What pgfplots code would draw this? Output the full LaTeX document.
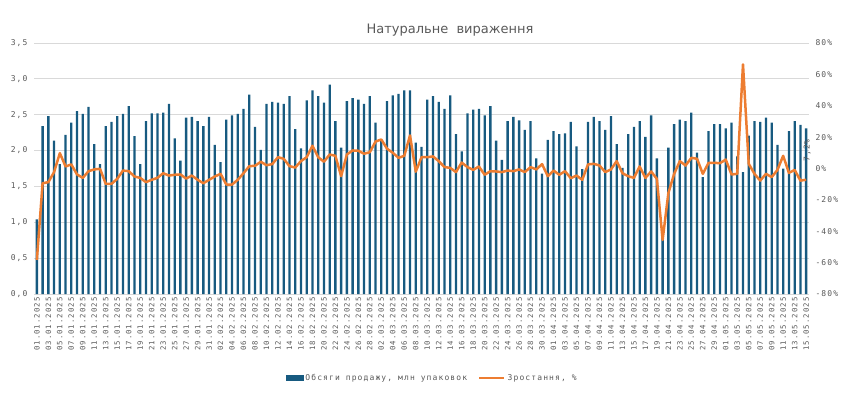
\documentclass[border=0pt]{standalone}
\usepackage{fontspec}
\setmainfont{DejaVu Sans}
\newfontfamily\tickfont[LetterSpace=14]{DejaVu Sans Mono}
\usepackage{pgfplots}
\usepackage{pgfplotstable}
\pgfplotsset{compat=1.18}
\definecolor{barblue}{HTML}{175A80}
\definecolor{lineorange}{HTML}{ED7D31}
\definecolor{txtgray}{HTML}{595959}
\definecolor{gridgray}{HTML}{D9D9D9}
\pgfplotstableread{
x v g
1 1.04 -58.3
2 2.34 -9.4
3 2.48 -8.7
4 2.14 -2.3
5 1.81 9.8
6 2.22 1.3
7 2.39 2.6
8 2.55 -3.8
9 2.51 -6.0
10 2.61 -1.7
11 2.09 -0.6
12 1.81 -0.2
13 2.34 -9.8
14 2.40 -9.8
15 2.48 -6.6
16 2.51 -1.3
17 2.62 -1.7
18 2.20 -5.1
19 1.81 -6.0
20 2.41 -8.7
21 2.52 -7.2
22 2.52 -6.0
23 2.53 -3.0
24 2.65 -4.5
25 2.17 -4.0
26 1.86 -3.8
27 2.46 -6.4
28 2.47 -4.5
29 2.41 -7.2
30 2.34 -9.4
31 2.47 -7.2
32 2.08 -5.1
33 1.84 -3.4
34 2.43 -10.2
35 2.49 -10.2
36 2.51 -7.2
37 2.58 -3.0
38 2.78 1.5
39 2.33 1.7
40 2.01 4.3
41 2.65 2.1
42 2.68 2.8
43 2.67 7.2
44 2.65 6.2
45 2.76 1.5
46 2.30 0.6
47 2.03 4.7
48 2.70 7.2
49 2.84 14.5
50 2.76 7.2
51 2.67 4.3
52 2.92 8.9
53 2.41 8.1
54 2.04 -4.9
55 2.69 8.9
56 2.73 11.5
57 2.71 11.3
58 2.65 9.4
59 2.76 10.4
60 2.39 17.2
61 2.14 18.5
62 2.69 12.6
63 2.77 10.0
64 2.79 6.8
65 2.84 8.1
66 2.84 21.1
67 2.11 -2.0
68 2.05 7.2
69 2.71 7.2
70 2.76 7.7
71 2.68 4.7
72 2.58 0.9
73 2.77 0.4
74 2.23 -2.3
75 1.99 3.8
76 2.52 0.9
77 2.57 -0.9
78 2.58 1.3
79 2.49 -4.0
80 2.62 -1.7
81 2.14 -1.9
82 1.87 -2.3
83 2.41 -1.3
84 2.47 -1.7
85 2.42 -0.6
86 2.29 -2.3
87 2.41 0.9
88 1.89 -0.6
89 1.68 2.8
90 2.15 -4.9
91 2.27 -1.3
92 2.23 -4.0
93 2.24 -1.7
94 2.40 -6.2
95 2.06 -4.5
96 1.74 -7.2
97 2.40 2.6
98 2.47 3.0
99 2.41 1.9
100 2.29 -2.3
101 2.48 -0.6
102 2.09 4.7
103 1.76 -3.0
104 2.23 -4.9
105 2.33 -6.0
106 2.41 1.3
107 2.19 -6.0
108 2.49 -1.9
109 1.89 -6.6
110 0.85 -45.5
111 2.04 -15.7
112 2.37 -3.5
113 2.43 4.7
114 2.41 1.9
115 2.53 6.8
116 1.97 6.2
117 1.63 -3.4
118 2.27 3.6
119 2.37 3.6
120 2.37 3.4
121 2.31 5.7
122 2.39 -3.8
123 1.92 -3.4
124 1.70 66.4
125 2.21 3.0
126 2.41 -3.4
127 2.40 -7.7
128 2.46 -3.4
129 2.39 -5.5
130 2.08 -0.9
131 1.75 8.1
132 2.27 -2.8
133 2.41 -0.9
134 2.36 -7.7
135 2.31 -7.2
}\datatable

\begin{document}
\begin{tikzpicture}
\useasboundingbox (0,0) rectangle (850pt,394pt);
\node[font=\fontsize{13}{15}\selectfont, text=txtgray] at (450pt,364pt) {Натуральне\ \ вираження};
\begin{axis}[
  at={(34pt,100pt)}, anchor=south west,
  scale only axis, width=775pt, height=251pt,
  xmin=0.5, xmax=135.5, ymin=0, ymax=3.5,
  axis x line*=bottom, axis y line*=left,
  axis line style={draw=none},
  major tick length=0pt,
  ytick={0,0.5,1,1.5,2,2.5,3,3.5},
  yticklabels={{0,0},{0,5},{1,0},{1,5},{2,0},{2,5},{3,0},{3,5}},
  yticklabel style={font=\tickfont\fontsize{8}{9}\selectfont, text=txtgray, xshift=-3pt},
  ymajorgrids, grid style={gridgray, line width=0.8pt},
  xtick={1,3,...,135},
  xticklabels={01.01.2025,03.01.2025,05.01.2025,07.01.2025,09.01.2025,11.01.2025,13.01.2025,15.01.2025,17.01.2025,19.01.2025,21.01.2025,23.01.2025,25.01.2025,27.01.2025,29.01.2025,31.01.2025,
  02.02.2025,04.02.2025,06.02.2025,08.02.2025,10.02.2025,12.02.2025,14.02.2025,16.02.2025,18.02.2025,20.02.2025,22.02.2025,24.02.2025,26.02.2025,28.02.2025,
  02.03.2025,04.03.2025,06.03.2025,08.03.2025,10.03.2025,12.03.2025,14.03.2025,16.03.2025,18.03.2025,20.03.2025,22.03.2025,24.03.2025,26.03.2025,28.03.2025,30.03.2025,
  01.04.2025,03.04.2025,05.04.2025,07.04.2025,09.04.2025,11.04.2025,13.04.2025,15.04.2025,17.04.2025,19.04.2025,21.04.2025,23.04.2025,25.04.2025,27.04.2025,29.04.2025,
  01.05.2025,03.05.2025,05.05.2025,07.05.2025,09.05.2025,11.05.2025,13.05.2025,15.05.2025},
  xticklabel style={rotate=90, anchor=east, font=\tickfont\fontsize{7.3}{8}\selectfont, text=txtgray},
]
\addplot[ybar, bar width=2.3pt, fill=barblue, draw=none] table[x=x, y=v] {\datatable};
\end{axis}
\begin{axis}[
  at={(34pt,100pt)}, anchor=south west,
  scale only axis, width=775pt, height=251pt,
  xmin=0.5, xmax=135.5, ymin=-80, ymax=80,
  axis y line*=right, axis x line=none,
  axis line style={draw=none},
  major tick length=0pt,
  clip=false,
  ytick={-80,-60,-40,-20,0,20,40,60,80},
  yticklabels={-80\%,-60\%,-40\%,-20\%,0\%,20\%,40\%,60\%,80\%},
  yticklabel style={font=\tickfont\fontsize{8}{9}\selectfont, text=txtgray, anchor=west, xshift=3pt},
  legend style={at={(0.514,-0.335)}, anchor=center, draw=none, fill=none,
    font=\tickfont\fontsize{8}{9}\selectfont, text=txtgray, legend columns=2,
    /tikz/every even column/.append style={column sep=9pt}},
]
\addlegendimage{legend image code/.code={\fill[barblue] (0pt,-2.5pt) rectangle (17pt,2.5pt);}}
\addlegendentry{Обсяги продажу, млн упаковок}
\addplot[lineorange, line width=2.5pt, line join=round, mark=none,
  legend image code/.code={\draw[lineorange, line width=2.5pt] (0pt,0pt) -- (25pt,0pt);}] table[x=x, y=g] {\datatable};
\addlegendentry{Зростання, \%}
\node[rotate=90, anchor=west, font=\tickfont\fontsize{8}{9}\selectfont, text=txtgray] at (axis cs:135.2,2) {7,2\%};
\end{axis}
\end{tikzpicture}
\end{document}
